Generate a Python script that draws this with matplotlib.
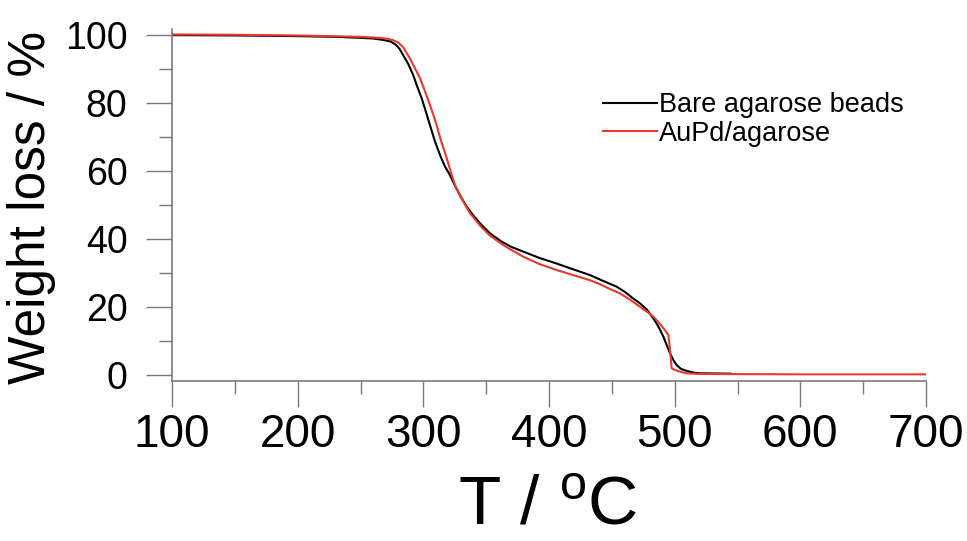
import matplotlib
matplotlib.use("Agg")
import matplotlib.pyplot as plt
from matplotlib.ticker import MultipleLocator

# curvas TGA lidas em pontos (temperatura em °C, massa em %)
T_bare = [100, 150, 200, 230, 250, 260, 268, 274, 278, 281, 284, 288, 292, 295,
          298.7, 302, 305.3, 309, 313.3, 317, 321.2, 325, 329.2, 334, 340, 346,
          353, 362, 370, 379.5, 392, 406, 420, 432.6, 443, 453.8, 461, 467,
          472.4, 478, 483, 487, 491, 494, 496.3, 499, 501.6, 505, 509.6, 515,
          520, 545]
W_bare = [100, 99.9, 99.7, 99.5, 99.2, 99.0, 98.6, 98.1, 97.2, 96.0, 94.1, 91.5, 88.2, 85.0,
          81.4, 77.5, 73.5, 69.0, 64.7, 61.5, 58.8, 55.8, 52.9, 49.8, 46.8, 44.3,
          41.7, 39.3, 37.7, 36.3, 34.5, 32.8, 31.0, 29.4, 27.7, 26.0, 24.3, 22.5,
          21.1, 19.2, 16.7, 14.3, 11.3, 8.5, 6.4, 4.4, 2.9, 1.8, 1.2, 0.7,
          0.5, 0.4]

T_aupd = [100, 150, 200, 250, 265, 272, 276, 280, 284, 289.4, 293, 297.3, 301, 305.3,
          308, 310.6, 314, 318.6, 322, 325.2, 330, 337.1, 345, 353, 365, 379.5,
          392, 406, 420, 432.6, 440.6, 448, 456.5, 464, 472.4, 478, 483, 487,
          491, 495, 496.3, 497.6, 500, 505, 509.6, 520, 600, 700]
W_aupd = [100.2, 100.1, 99.9, 99.5, 99.2, 98.9, 98.5, 97.8, 96.4, 93.1, 90.5, 87.4, 83.8, 79.4,
          76.5, 73.5, 69.0, 63.8, 59.6, 55.9, 52.2, 47.6, 44.0, 41.0, 37.9, 34.8,
          32.7, 30.9, 29.3, 27.9, 26.7, 25.4, 24.0, 22.3, 20.1, 18.6, 17.2, 15.6,
          13.8, 11.8, 7.4, 2.0, 1.5, 0.9, 0.5, 0.3, 0.2, 0.2]

x_ticks = [100, 200, 300, 400, 500, 600, 700]
y_ticks = [0, 20, 40, 60, 80, 100]

GRAY = "#7a7a7a"
RED = "#e8392a"

plt.rcParams["font.family"] = ["Liberation Sans", "DejaVu Sans"]

fig = plt.figure(figsize=(9.67, 5.41), dpi=100)
ax = fig.add_axes([172 / 967, 1 - 381 / 541, (926 - 172) / 967, (381 - 29) / 541])

ax.plot(T_bare, W_bare, color="black", lw=1.5, label="Bare agarose beads")
ax.plot(T_aupd, W_aupd, color=RED, lw=1.5, label="AuPd/agarose")

ax.set_xlim(100, 700)
ax.set_ylim(-1.76, 101.8)

for s in ["top", "right"]:
    ax.spines[s].set_visible(False)
for s in ["left", "bottom"]:
    ax.spines[s].set_color(GRAY)
    ax.spines[s].set_linewidth(1.2)

ax.set_xticks(x_ticks)
ax.set_yticks(y_ticks)
ax.xaxis.set_minor_locator(MultipleLocator(50))
ax.yaxis.set_minor_locator(MultipleLocator(10))
ax.tick_params(which="major", direction="out", length=19, width=1.0, color=GRAY)
ax.tick_params(which="minor", direction="out", length=9.5, width=1.0, color=GRAY)
ax.tick_params(axis="x", which="major", pad=4, labelsize=33)
ax.tick_params(axis="y", which="major", pad=13, labelsize=27)

fig.text(32 / 967, 1 - 207 / 541, "Weight loss / %", rotation=90,
         ha="center", va="center", fontsize=37)
fig.text(548 / 967, 1 - 506 / 541, "T / $\\mathregular{^{o}}$C",
         ha="center", va="center", fontsize=50)

ax.legend(loc="upper left", bbox_to_anchor=(603 / 967, 1 - 92 / 541),
          bbox_transform=fig.transFigure, frameon=False, fontsize=19.5,
          handlelength=2.0, handletextpad=0.05, labelspacing=0.1,
          borderpad=0, borderaxespad=0)

fig.savefig("out.png", dpi=100, facecolor="white")
